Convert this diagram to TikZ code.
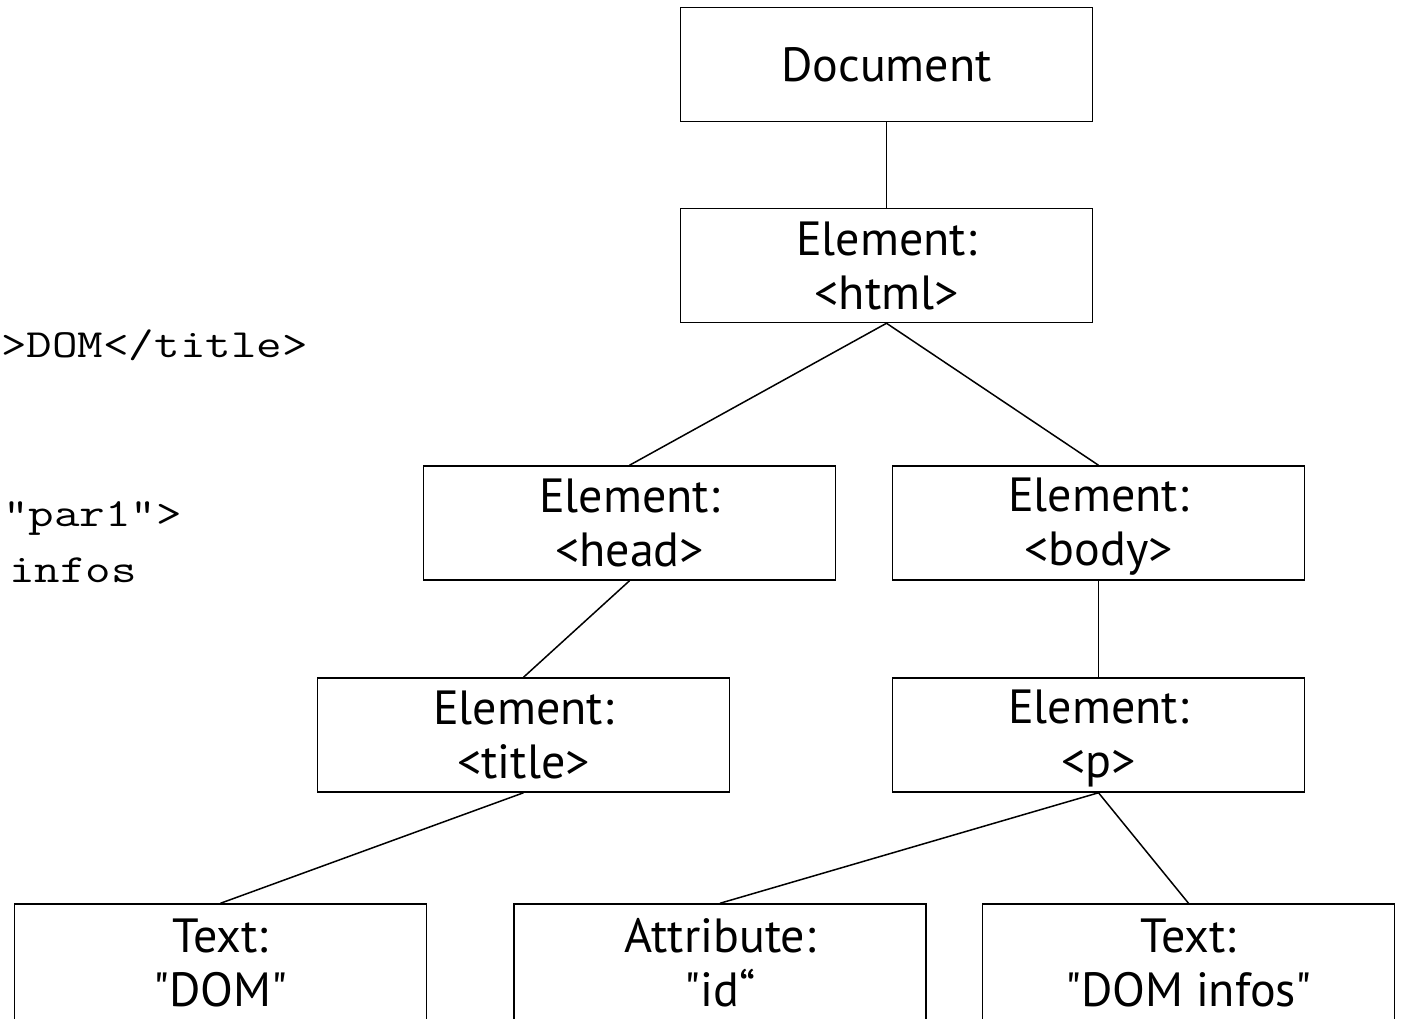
\documentclass[tikz,border=0pt]{standalone}
\usepackage{fontspec}
\setmainfont{PT Sans}[Ligatures=TeXOff]
\newfontfamily\codefont{Latin Modern Mono}[FakeStretch=1.24]
\newcommand\boxstrutx{\rule[-7pt]{0pt}{47pt}}
\tikzset{
  dombox/.style={draw, line width=1.5pt, minimum width=412pt, minimum height=114pt,
    inner sep=0pt, align=center, font=\fontsize{48}{54}\selectfont},
  leafbox/.style={dombox, minimum height=118pt},
  conn/.style={line width=1.5pt},
  code/.style={anchor=base west, inner sep=0pt, font=\codefont\fontsize{40}{50}\selectfont}
}
\begin{document}
\begin{tikzpicture}[x=1pt,y=-1pt]
\useasboundingbox (0,0) rectangle (1402,1018);
% code fragments
\node[code] (c1) at (1,357) {>DOM</title>};
\node[code] (c2) at (3,526) {"par1">};
\node[code] (c3) at (9,582) {infos};
% boxes
\node[dombox] (doc) at (886.5,64.5) {\boxstrutx Document};
\node[dombox] (html) at (886.5,265.5) {\boxstrutx Element:\\\boxstrutx <html>};
\node[dombox] (head) at (629.5,523) {\boxstrutx Element:\\\boxstrutx <head>};
\node[dombox] (body) at (1098.5,523) {\boxstrutx Element:\\\boxstrutx <body>};
\node[dombox] (title) at (523.5,735) {\boxstrutx Element:\\\boxstrutx <title>};
\node[dombox] (p) at (1098.5,735) {\boxstrutx Element:\\\boxstrutx <p>};
\node[leafbox] (t1) at (220.5,963) {\boxstrutx Text:\\\boxstrutx "DOM"};
\node[leafbox] (attr) at (720,963) {\boxstrutx Attribute:\\\boxstrutx "id“};
\node[leafbox] (t2) at (1188.5,963) {\boxstrutx Text:\\\boxstrutx "DOM infos"};
% connectors
\draw[conn] (doc.south) -- (html.north);
\draw[conn] (html.south) -- (head.north);
\draw[conn] (html.south) -- (body.north);
\draw[conn] (head.south) -- (title.north);
\draw[conn] (body.south) -- (p.north);
\draw[conn] (title.south) -- (t1.north);
\draw[conn] (p.south) -- (attr.north);
\draw[conn] (p.south) -- (t2.north);
\end{tikzpicture}
\end{document}
